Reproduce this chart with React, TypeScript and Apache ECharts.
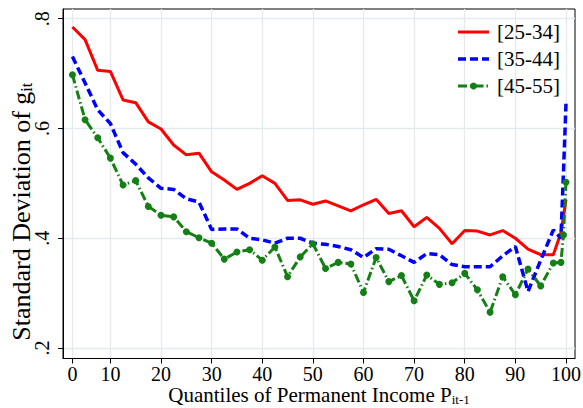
import React, { useEffect, useRef } from 'react';
import * as echarts from 'echarts';

// Quantile positions of the plotted points (first point sits on the "0" tick)
const quantiles = [
  2.5, 5, 7.5, 10, 12.5, 15, 17.5, 20, 22.5, 25,
  27.5, 30, 32.5, 35, 37.5, 40, 42.5, 45, 47.5, 50,
  52.5, 55, 57.5, 60, 62.5, 65, 67.5, 70, 72.5, 75,
  77.5, 80, 82.5, 85, 87.5, 90, 92.5, 95, 97.5, 99, 99.5, 100,
];

const age25_34 = [
  0.785, 0.762, 0.706, 0.704, 0.652, 0.647, 0.612, 0.599, 0.570, 0.552,
  0.555, 0.521, 0.506, 0.489, 0.500, 0.514, 0.500, 0.469, 0.470, 0.462,
  0.468, 0.459, 0.450, 0.461, 0.471, 0.445, 0.450, 0.421, 0.438, 0.418,
  0.390, 0.414, 0.413, 0.406, 0.414, 0.400, 0.380, 0.370, 0.370, 0.410, 0.440, 0.470,
];

const age35_44 = [
  0.731, 0.683, 0.634, 0.609, 0.556, 0.535, 0.510, 0.491, 0.489, 0.472,
  0.466, 0.416, 0.417, 0.417, 0.400, 0.397, 0.391, 0.400, 0.400, 0.391,
  0.389, 0.385, 0.379, 0.365, 0.381, 0.380, 0.368, 0.356, 0.372, 0.370,
  0.352, 0.348, 0.348, 0.348, 0.368, 0.385, 0.303, 0.360, 0.415, 0.400, 0.520, 0.645,
];

const age45_55 = [
  0.698, 0.616, 0.583, 0.546, 0.497, 0.505, 0.458, 0.442, 0.439, 0.412,
  0.401, 0.391, 0.362, 0.375, 0.379, 0.360, 0.384, 0.330, 0.366, 0.390,
  0.345, 0.356, 0.353, 0.301, 0.365, 0.321, 0.332, 0.286, 0.333, 0.316,
  0.319, 0.336, 0.306, 0.265, 0.330, 0.297, 0.344, 0.313, 0.355, 0.356, 0.406, 0.502,
];

const seriesNames = ['[25-34]', '[35-44]', '[45-55]'];
const seriesColors = ['#ff0000', '#0000ff', '#147f14'];

const xTickValues = [2.5, 10, 20, 30, 40, 50, 60, 70, 80, 90, 100];
const xTickLabels = ['0', '10', '20', '30', '40', '50', '60', '70', '80', '90', '100'];
const yTickValues = [0.2, 0.4, 0.6, 0.8];
const yTickLabels = ['.2', '.4', '.6', '.8'];

const FONT = "'Liberation Serif', 'Times New Roman', 'DejaVu Serif', serif";

function lookup(values: number[], labels: string[], v: number): string {
  for (let i = 0; i < values.length; i++) {
    if (Math.abs(values[i] - v) < 1e-6) return labels[i];
  }
  return '';
}

export default function App() {
  const ref = useRef<HTMLDivElement>(null);

  useEffect(() => {
    if (!ref.current) return;
    const chart = echarts.init(ref.current, null, { renderer: 'svg' });
    const pairs = (vals: number[]) => quantiles.map((q, i) => [q, vals[i]]);
    const gridColor = '#e3ebee';

    const redLine = { stroke: seriesColors[0], lineWidth: 3 };
    const blueLine = { stroke: seriesColors[1], lineWidth: 3.5, lineDash: [8, 4] };
    const greenLine = { stroke: seriesColors[2], lineWidth: 3, lineDash: [9, 3, 1.5, 3] };
    const legendX0 = 458;
    const legendX1 = 489;
    const legendTextX = 497;
    const legendYs = [32, 59, 86];

    const legendGraphics: any[] = [];
    const styles = [redLine, blueLine, greenLine];
    seriesNames.forEach((name, i) => {
      legendGraphics.push({
        type: 'line',
        shape: { x1: legendX0, y1: legendYs[i], x2: legendX1, y2: legendYs[i] },
        style: styles[i],
        z: 10,
      });
      if (i === 2) {
        legendGraphics.push({
          type: 'circle',
          shape: { cx: (legendX0 + legendX1) / 2, cy: legendYs[i], r: 3.5 },
          style: { fill: seriesColors[2] },
          z: 11,
        });
      }
      legendGraphics.push({
        type: 'text',
        x: legendTextX,
        y: legendYs[i],
        style: {
          text: name,
          fontSize: 21,
          fontFamily: FONT,
          fill: '#000',
          verticalAlign: 'middle',
          align: 'left',
        },
        z: 10,
      });
    });

    chart.setOption({
      animation: false,
      backgroundColor: '#ffffff',
      textStyle: { fontFamily: FONT },
      grid: {
        left: 63,
        right: 8,
        top: 9,
        bottom: 49.5,
        show: true,
        borderColor: '#000',
        borderWidth: 1,
        backgroundColor: 'transparent',
        containLabel: false,
        outerBoundsMode: 'none',
      },
      graphic: legendGraphics,
      xAxis: {
        type: 'value',
        min: 0.64,
        max: 101.78,
        axisLine: { show: true, onZero: false, lineStyle: { color: '#000', width: 1 } },
        axisTick: { show: true, length: 5, customValues: xTickValues, lineStyle: { color: '#000', width: 1 } },
        axisLabel: {
          customValues: xTickValues,
          formatter: (v: number) => lookup(xTickValues, xTickLabels, v),
          margin: 5,
          fontSize: 20,
          color: '#000',
          fontFamily: FONT,
        },
        splitLine: { show: true, lineStyle: { color: gridColor, width: 1.3 } },
        name: 'Quantiles of Permanent Income P{sub|it-1}',
        nameLocation: 'middle',
        nameGap: 25,
        nameMoveOverlap: false,
        nameTextStyle: {
          fontSize: 21,
          fontFamily: FONT,
          color: '#000',
          lineHeight: 22,
          rich: {
            sub: { fontSize: 13, fontFamily: FONT, color: '#000', lineHeight: 13, verticalAlign: 'bottom' },
          },
        },
      },
      yAxis: {
        type: 'value',
        min: 0.1809,
        max: 0.8177,
        axisLine: { show: true, onZero: false, lineStyle: { color: '#000', width: 1 } },
        axisTick: { show: true, length: 5, customValues: yTickValues, lineStyle: { color: '#000', width: 1 } },
        axisLabel: {
          customValues: yTickValues,
          formatter: (v: number) => lookup(yTickValues, yTickLabels, v),
          rotate: 90,
          margin: 11,
          fontSize: 20,
          color: '#000',
          fontFamily: FONT,
        },
        splitLine: { show: true, lineStyle: { color: gridColor, width: 1.3 } },
        name: 'Standard Deviation of g{sub|it}',
        nameLocation: 'middle',
        nameGap: 29,
        nameMoveOverlap: false,
        nameTextStyle: {
          fontSize: 26,
          fontFamily: FONT,
          color: '#000',
          lineHeight: 26,
          padding: [0, 56, 0, 0],
          rich: {
            sub: { fontSize: 16, fontFamily: FONT, color: '#000', lineHeight: 16, verticalAlign: 'bottom' },
          },
        },
      },
      series: [
        {
          name: seriesNames[0],
          type: 'line',
          data: pairs(age25_34),
          symbol: 'none',
          lineStyle: { color: seriesColors[0], width: 3, type: 'solid' },
          itemStyle: { color: seriesColors[0] },
          z: 2,
        },
        {
          name: seriesNames[1],
          type: 'line',
          data: pairs(age35_44),
          symbol: 'none',
          lineStyle: { color: seriesColors[1], width: 3.5, type: [8, 4] },
          itemStyle: { color: seriesColors[1] },
          z: 3,
        },
        {
          name: seriesNames[2],
          type: 'line',
          data: pairs(age45_55),
          symbol: 'circle',
          symbolSize: 7,
          showSymbol: true,
          lineStyle: { color: seriesColors[2], width: 3, type: [9, 3, 1.5, 3] },
          itemStyle: { color: seriesColors[2] },
          z: 4,
        },
      ],
    });

    return () => chart.dispose();
  }, []);

  return (
    <div
      ref={ref}
      style={{ position: 'fixed', left: 0, top: 0, width: 583, height: 408, background: '#fff' }}
    />
  );
}
